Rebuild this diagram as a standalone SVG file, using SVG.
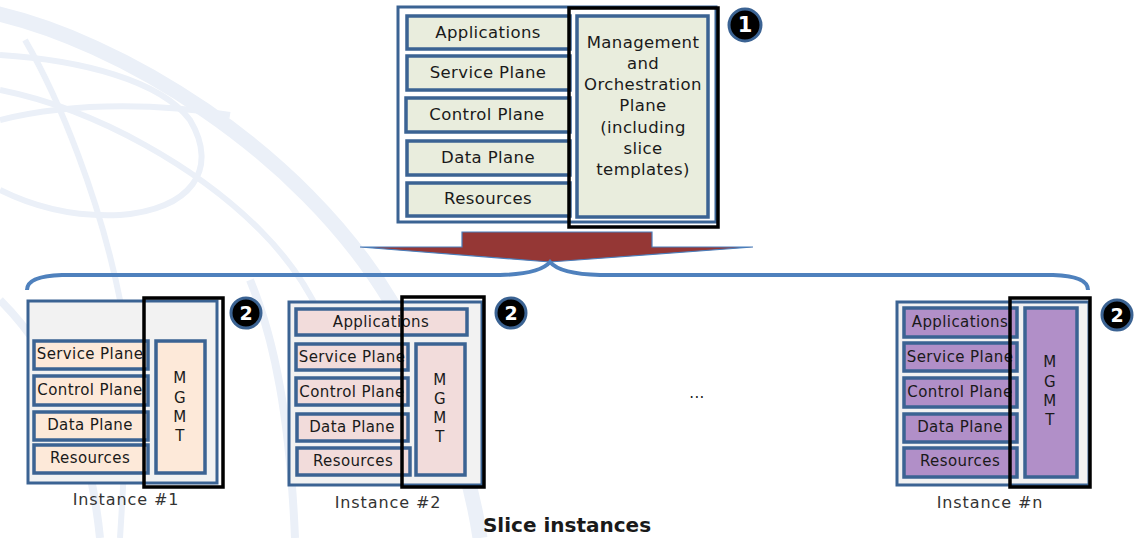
<svg xmlns="http://www.w3.org/2000/svg" width="1140" height="538" viewBox="0 0 1140 538">
<style>
.t{font-family:"DejaVu Sans","Noto Sans","Liberation Sans",sans-serif;fill:#1a1a1a;text-anchor:middle;dominant-baseline:central}
.big{font-size:16.5px;letter-spacing:0.4px}
.sm{font-size:15px;letter-spacing:0.4px}
.lbl{font-size:16px;fill:#333;letter-spacing:0.9px}
.box{stroke:#3b6393;stroke-width:3.5}
.outer{stroke:#3b6393;stroke-width:3}
.blk{fill:none;stroke:#000;stroke-width:3.5}
.g{fill:#e9eddd}
.p1{fill:#fde9d9}
.p2{fill:#f2dcdb}
.pn{fill:#b18fc8}
.badge{fill:#000;stroke:#3b6393;stroke-width:3}
.bn{font-family:"DejaVu Sans","Liberation Sans",sans-serif;font-weight:bold;fill:#fff;text-anchor:middle;dominant-baseline:central}
.wm{fill:none;stroke:#ebf0f8}
</style>
<rect width="1140" height="538" fill="#ffffff"/>
<g id="watermark">
<path class="wm" stroke-width="15" d="M-10,12 C120,40 300,150 390,300 C440,380 470,470 480,538"/>
<path class="wm" stroke-width="6" d="M0,55 C80,60 160,80 190,120 C220,170 190,210 120,215 C60,218 20,200 0,190"/>
<path class="wm" stroke-width="6" d="M25,40 C60,100 100,200 120,300 C130,380 125,460 120,538"/>
<path class="wm" stroke-width="6" d="M0,120 C80,100 170,105 230,115"/>
<path class="wm" stroke-width="6" d="M0,90 C100,110 200,170 260,230 C300,270 330,320 340,380"/>
<path class="wm" stroke-width="8" d="M0,300 C60,360 90,440 100,538"/>
<path class="wm" stroke-width="8" d="M250,280 C275,340 290,420 295,538"/>
</g>
<g id="connectors">
<polygon points="462,232 652,232 652,247 753,247 550,262 360,247 462,247" fill="#953735" stroke="#4a7ebb" stroke-width="1.2"/>
<path d="M27,290 Q27,276 62,275 L500,275 Q540,274 550,262 Q560,274 600,275 L1053,275 Q1088,276 1088,290" fill="none" stroke="#4f81bd" stroke-width="4"/>
</g>
<g id="template">
<rect x="398" y="7" width="318" height="215" fill="#fff" class="outer"/>
<rect x="407" y="16" width="163" height="33" class="box g"/>
<rect x="407" y="56" width="163" height="34" class="box g"/>
<rect x="406" y="98" width="164" height="34" class="box g"/>
<rect x="407" y="141" width="163" height="34" class="box g"/>
<rect x="407" y="183" width="163" height="33" class="box g"/>
<rect x="577" y="16" width="131" height="201" class="box g"/>
<text class="t big" x="488" y="32">Applications</text>
<text class="t big" x="488" y="72">Service Plane</text>
<text class="t big" x="487" y="114">Control Plane</text>
<text class="t big" x="488" y="157">Data Plane</text>
<text class="t big" x="488" y="198">Resources</text>
<text class="t big" x="643" y="42">Management</text>
<text class="t big" x="643" y="63">and</text>
<text class="t big" x="643" y="84">Orchestration</text>
<text class="t big" x="643" y="105">Plane</text>
<text class="t big" x="643" y="127">(including</text>
<text class="t big" x="643" y="148">slice</text>
<text class="t big" x="643" y="169">templates)</text>
<rect x="569" y="8" width="149" height="219" class="blk"/>
</g>
<g id="badge1">
<circle cx="745" cy="25" r="16" class="badge"/>
<text class="bn" x="745" y="25" font-size="21">1</text>
</g>
<g id="instance1">
<rect x="28" y="301" width="189" height="182" fill="#f2f2f2" class="outer"/>
<rect x="34" y="341" width="114" height="28" class="box p1"/>
<rect x="34" y="376" width="114" height="29" class="box p1"/>
<rect x="34" y="412" width="114" height="28" class="box p1"/>
<rect x="34" y="445" width="114" height="28" class="box p1"/>
<rect x="156" y="341" width="49" height="132" class="box p1"/>
<text class="t sm" x="90" y="354">Service Plane</text>
<text class="t sm" x="90" y="390">Control Plane</text>
<text class="t sm" x="90" y="425">Data Plane</text>
<text class="t sm" x="90" y="458">Resources</text>
<text class="t sm" x="180" y="378">M</text>
<text class="t sm" x="180" y="398">G</text>
<text class="t sm" x="180" y="417">M</text>
<text class="t sm" x="180" y="436">T</text>
<rect x="144" y="298" width="79" height="189" class="blk"/>
<text class="t lbl" x="126" y="499">Instance #1</text>
</g>
<g id="badge2a">
<circle cx="246" cy="313" r="15" class="badge"/>
<text class="bn" x="246" y="313" font-size="19">2</text>
</g>
<g id="instance2">
<rect x="289" y="302" width="193" height="183" fill="#f2f2f2" class="outer"/>
<rect x="296" y="309" width="171" height="26" class="box p2"/>
<rect x="296" y="344" width="112" height="26" class="box p2"/>
<rect x="296" y="378" width="112" height="27" class="box p2"/>
<rect x="297" y="414" width="111" height="27" class="box p2"/>
<rect x="297" y="448" width="113" height="27" class="box p2"/>
<rect x="416" y="344" width="49" height="131" class="box p2"/>
<text class="t sm" x="381" y="322">Applications</text>
<text class="t sm" x="352" y="357">Service Plane</text>
<text class="t sm" x="352" y="392">Control Plane</text>
<text class="t sm" x="352" y="427">Data Plane</text>
<text class="t sm" x="353" y="461">Resources</text>
<text class="t sm" x="440" y="380">M</text>
<text class="t sm" x="440" y="399">G</text>
<text class="t sm" x="440" y="418">M</text>
<text class="t sm" x="440" y="437">T</text>
<rect x="402" y="297" width="82" height="190" class="blk"/>
<text class="t lbl" x="388" y="502">Instance #2</text>
</g>
<g id="badge2b">
<circle cx="511" cy="313" r="15" class="badge"/>
<text class="bn" x="511" y="313" font-size="19">2</text>
</g>
<g id="ellipsis">
<text class="t sm" x="697" y="393">...</text>
</g>
<g id="instancen">
<rect x="897" y="302" width="192" height="183" fill="#f2f2f2" class="outer"/>
<rect x="904" y="308" width="113" height="29" class="box pn"/>
<rect x="904" y="343" width="113" height="28" class="box pn"/>
<rect x="904" y="378" width="113" height="29" class="box pn"/>
<rect x="904" y="414" width="113" height="28" class="box pn"/>
<rect x="904" y="448" width="113" height="29" class="box pn"/>
<rect x="1025" y="308" width="52" height="169" class="box pn"/>
<text class="t sm" x="960" y="322">Applications</text>
<text class="t sm" x="960" y="357">Service Plane</text>
<text class="t sm" x="960" y="392">Control Plane</text>
<text class="t sm" x="960" y="427">Data Plane</text>
<text class="t sm" x="960" y="461">Resources</text>
<text class="t sm" x="1050" y="362">M</text>
<text class="t sm" x="1050" y="382">G</text>
<text class="t sm" x="1050" y="401">M</text>
<text class="t sm" x="1050" y="420">T</text>
<rect x="1010" y="298" width="80" height="189" class="blk"/>
<text class="t lbl" x="990" y="502">Instance #n</text>
</g>
<g id="badge2c">
<circle cx="1117" cy="315" r="15" class="badge"/>
<text class="bn" x="1117" y="315" font-size="19">2</text>
</g>
<g id="caption">
<text class="t" x="567" y="525" font-size="20" font-weight="bold">Slice instances</text>
</g>
</svg>
